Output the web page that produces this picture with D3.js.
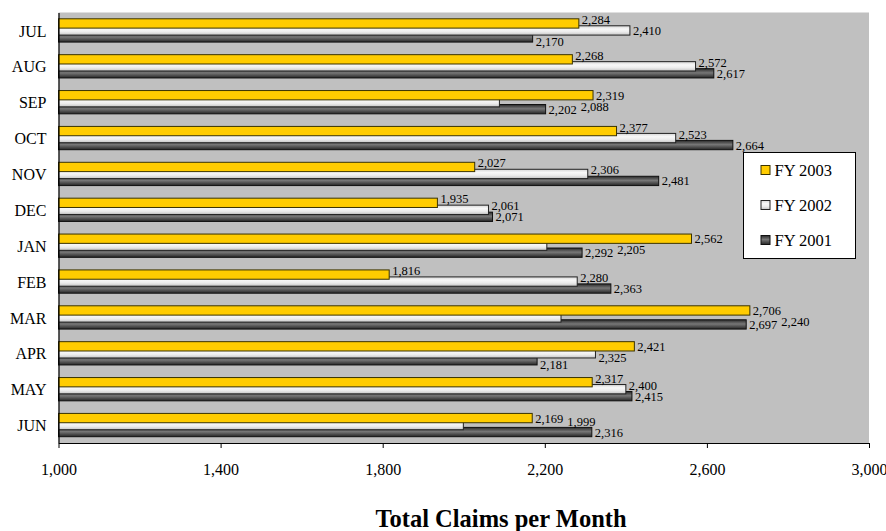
<!DOCTYPE html>
<html>
<head>
<meta charset="utf-8">
<script src="https://cdn.jsdelivr.net/npm/d3@7"></script>
<style>
  html, body { margin: 0; padding: 0; background: #ffffff; }
  svg { display: block; }
  text { font-family: "Liberation Serif", "Times New Roman", Times, serif; fill: #000; }
</style>
</head>
<body>
<svg id="chart" width="886" height="531"></svg>
<script>
// ---------------- data ----------------
const months = ["JUL", "AUG", "SEP", "OCT", "NOV", "DEC", "JAN", "FEB", "MAR", "APR", "MAY", "JUN"];
const fy2003 = [2284, 2268, 2319, 2377, 2027, 1935, 2562, 1816, 2706, 2421, 2317, 2169];
const fy2002 = [2410, 2572, 2088, 2523, 2306, 2061, 2205, 2280, 2240, 2325, 2400, 1999];
const fy2001 = [2170, 2617, 2202, 2664, 2481, 2071, 2292, 2363, 2697, 2181, 2415, 2316];
const seriesNames = ["FY 2003", "FY 2002", "FY 2001"];
const xTicks = [1000, 1400, 1800, 2200, 2600, 3000];
const xDomain = [1000, 3000];
const title = "Total Claims per Month";

// ---------------- layout ----------------
const plot = { left: 58.5, right: 869, top: 12.5, bottom: 443 };
const legendBox = { x: 743.5, y: 152.5, w: 112, h: 106 };
const fmt = d3.format(",");

const svg = d3.select("#chart");
const defs = svg.append("defs");

function grad(id, stops) {
  const g = defs.append("linearGradient").attr("id", id)
    .attr("x1", 0).attr("y1", 0).attr("x2", 0).attr("y2", 1);
  stops.forEach(s => g.append("stop").attr("offset", s[0]).attr("stop-color", s[1]));
}
grad("gYellow", [[0, "#ffcc00"], [1, "#ffcc00"]]);
grad("gLight", [[0, "#d6d6d6"], [0.35, "#f8f8f8"], [0.65, "#ececec"], [1, "#c4c4c4"]]);
grad("gDark", [[0, "#2a2a2a"], [0.45, "#777777"], [1, "#262626"]]);

const series = [
  { name: seriesNames[0], values: fy2003, fill: "url(#gYellow)", stroke: "#3a3300" },
  { name: seriesNames[1], values: fy2002, fill: "url(#gLight)", stroke: "#222" },
  { name: seriesNames[2], values: fy2001, fill: "url(#gDark)", stroke: "#111" }
];

const x = d3.scaleLinear().domain(xDomain).range([plot.left, plot.right]);
const y = d3.scaleBand().domain(months).range([plot.top, plot.bottom])
  .paddingInner(0.351).paddingOuter(0.1755);
const bw = y.bandwidth();
const barH = bw * 0.40;
const subStep = (bw - barH) / 2;

// plot background
svg.append("rect")
  .attr("x", plot.left).attr("y", plot.top)
  .attr("width", plot.right - plot.left).attr("height", plot.bottom - plot.top)
  .attr("fill", "#c0c0c0");

// bar geometry (for label placement)
const barRects = months.map((m, mi) => series.map((s, si) => ({
  si, v: s.values[mi],
  x0: x(xDomain[0]), x1: x(s.values[mi]),
  y0: y(m) + si * subStep, y1: y(m) + si * subStep + barH
})));

// bars: FY2001 first (bottom), then FY2002, then FY2003 on top
const barsG = svg.append("g");
[2, 1, 0].forEach(si => {
  const s = series[si];
  barsG.append("g").selectAll("rect")
    .data(months)
    .join("rect")
    .attr("x", x(xDomain[0]))
    .attr("y", (m) => y(m) + si * subStep)
    .attr("width", (m, i) => x(s.values[i]) - x(xDomain[0]))
    .attr("height", barH)
    .attr("fill", s.fill)
    .attr("stroke", s.stroke)
    .attr("stroke-width", 1);
});

// axes
const xAxis = d3.axisBottom(x).tickValues(xTicks).tickFormat(fmt).tickSize(5).tickSizeOuter(0);
const gx = svg.append("g").attr("transform", `translate(0,${plot.bottom})`).call(xAxis);
gx.attr("font-family", null);
gx.select(".domain").attr("stroke", "#000").attr("stroke-width", 1.2);
gx.selectAll(".tick line").attr("stroke", "#000");
gx.selectAll(".tick text")
  .attr("y", 21)
  .style("font-family", '"Liberation Serif", "Times New Roman", serif')
  .style("font-size", "16px").attr("fill", "#000");

const yAxis = d3.axisLeft(y).tickSize(0).tickSizeOuter(0).tickPadding(12);
const gy = svg.append("g").attr("transform", `translate(${plot.left},0)`).call(yAxis);
gy.attr("font-family", null);
gy.select(".domain").attr("stroke", "#000").attr("stroke-width", 1.2);
gy.selectAll(".tick text")
  .attr("dy", "0.38em")
  .style("font-family", '"Liberation Serif", "Times New Roman", serif')
  .style("font-size", "16px").attr("fill", "#000");

// value labels: at bar end, nudged vertically / stepped right to avoid collisions
const labelsG = svg.append("g");
const placed = [];
const obstacles = [{ x0: legendBox.x - 2, x1: legendBox.x + legendBox.w + 2, y0: legendBox.y - 2, y1: legendBox.y + legendBox.h + 2 }];
const LH = 10.4;
function overlaps(a, b) {
  return a.x0 < b.x1 && a.x1 > b.x0 && a.y0 < b.y1 && a.y1 > b.y0;
}
const prefDy = {
  0: [0, -2, -4, -6, -8, 2, 4, 6, 8],      // top bar: prefer upward
  1: [0, -2, 2, -4, 4, -6, 6, -8, 8],      // middle bar
  2: [0, 2, 4, 6, 8, -2, -4, -6, -8]       // bottom bar: prefer downward
};
const order = [0, 2, 1];
months.forEach((m, mi) => {
  const group = barRects[mi];
  order.forEach(si => {
    const bar = group[si];
    const t = labelsG.append("text")
      .style("font-size", "12.5px")
      .text(fmt(bar.v));
    const w = t.node().getComputedTextLength();
    const cy = (bar.y0 + bar.y1) / 2;
    let lx = bar.x1 + 3;
    let best = null;
    const others = group.filter(b => b !== bar);
    for (let pass = 0; pass < 10 && !best; pass++) {
      for (const dy of prefDy[si]) {
        const box = { x0: lx, x1: lx + w + 1, y0: cy + dy - LH / 2, y1: cy + dy + LH / 2 };
        const hit = others.some(b => overlaps(box, b)) ||
                    placed.some(p => overlaps(box, p)) ||
                    obstacles.some(o => overlaps(box, o));
        if (!hit) { best = box; break; }
      }
      if (!best) {
        const band = { x0: lx, x1: lx + w + 1, y0: cy - LH / 2 - 8, y1: cy + LH / 2 + 8 };
        const blockers = others.concat(placed).filter(b => overlaps(band, b) && b.x1 > lx);
        lx = blockers.length ? d3.min(blockers, b => b.x1) + 3 : lx + 10;
      }
    }
    if (!best) best = { x0: bar.x1 + 3, x1: bar.x1 + 3 + w, y0: cy - LH / 2, y1: cy + LH / 2 };
    placed.push(best);
    t.attr("x", best.x0).attr("y", (best.y0 + best.y1) / 2).attr("dy", "0.36em");
  });
});

// legend
const lg = svg.append("g").attr("transform", `translate(${legendBox.x},${legendBox.y})`);
lg.append("rect").attr("width", legendBox.w).attr("height", legendBox.h)
  .attr("fill", "#fff").attr("stroke", "#000").attr("stroke-width", 1);
series.forEach((s, i) => {
  const cy = 17.5 + i * 35;
  lg.append("rect").attr("x", 17.5).attr("y", cy - 4.5).attr("width", 9).attr("height", 9)
    .attr("fill", s.fill).attr("stroke", s.stroke).attr("stroke-width", 1);
  lg.append("text").attr("x", 31).attr("y", cy).attr("dy", "0.36em")
    .style("font-size", "16.5px").text(s.name);
});

// title
svg.append("text")
  .attr("x", 501).attr("y", 527)
  .attr("text-anchor", "middle")
  .style("font-size", "24.5px").style("font-weight", "bold")
  .text(title);
</script>
</body>
</html>
